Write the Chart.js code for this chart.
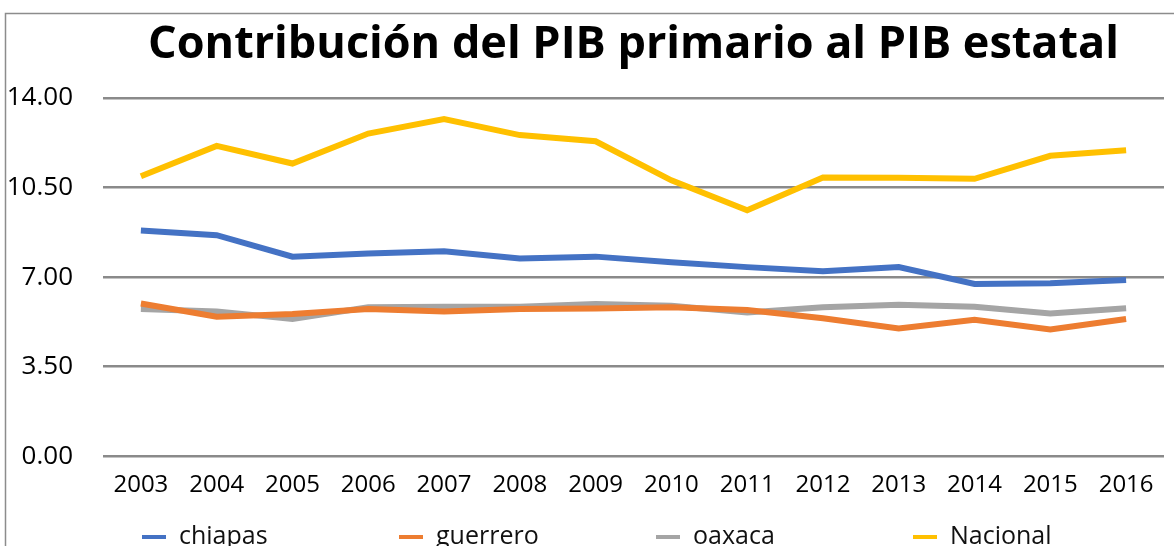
<!DOCTYPE html>
<html>
<head>
<meta charset="utf-8">
<script src="https://cdn.jsdelivr.net/npm/chart.js@4.4.1/dist/chart.umd.min.js"></script>
<style>
  html, body { margin: 0; padding: 0; background: #fff; overflow: hidden; }
  #wrap { position: relative; width: 1174px; height: 546px; }
</style>
</head>
<body>
<div id="wrap"><canvas id="pibChart" width="1174" height="546"></canvas></div>
<script>
// data
const years = ['2003', '2004', '2005', '2006', '2007', '2008', '2009',
  '2010', '2011', '2012', '2013', '2014', '2015', '2016'];
const chiapas = [8.82, 8.64, 7.80, 7.92, 8.01, 7.73, 7.80, 7.58, 7.39, 7.23, 7.39, 6.73, 6.76, 6.89];
const guerrero = [5.97, 5.45, 5.56, 5.75, 5.66, 5.75, 5.77, 5.82, 5.71, 5.39, 4.99, 5.33, 4.95, 5.36];
const oaxaca = [5.75, 5.66, 5.36, 5.82, 5.84, 5.84, 5.95, 5.88, 5.62, 5.82, 5.92, 5.84, 5.58, 5.78];
const nacional = [10.94, 12.13, 11.44, 12.61, 13.18, 12.55, 12.31, 10.78, 9.61, 10.89, 10.88, 10.84, 11.74, 11.96];
const seriesNames = ['chiapas', 'guerrero', 'oaxaca', 'Nacional'];

const COLORS = ['#4472C4', '#ED7D31', '#A5A5A5', '#FFC000'];
const FONT = '"Open Sans", "Noto Sans", sans-serif';

const mkSet = (label, data, color) => ({
  label,
  data,
  borderColor: color,
  backgroundColor: color,
  borderWidth: 6,
  pointRadius: 0,
  pointHoverRadius: 0,
  tension: 0,
});

// thin frame that runs off the right / bottom edge
const framePlugin = {
  id: 'frame',
  beforeDraw(chart) {
    const { ctx } = chart;
    ctx.save();
    ctx.fillStyle = '#fff';
    ctx.fillRect(0, 0, chart.width, chart.height);
    ctx.strokeStyle = '#8c8c8c';
    ctx.lineWidth = 1.5;
    ctx.strokeRect(5.5, 13.5, chart.width + 20, chart.height + 20);
    ctx.restore();
  },
};

// bottom legend with evenly spaced entries, like the original
const legendPlugin = {
  id: 'spacedLegend',
  afterDraw(chart) {
    const { ctx } = chart;
    const sets = chart.data.datasets;
    const step = 257;
    const x0 = 142;
    const y = 537;
    ctx.save();
    ctx.font = '25px ' + FONT;
    ctx.textBaseline = 'middle';
    sets.forEach((ds, i) => {
      const x = x0 + i * step;
      ctx.fillStyle = ds.borderColor;
      ctx.fillRect(x, y - 2, 24, 4);
      ctx.fillStyle = '#111';
      ctx.fillText(ds.label, x + 37, y);
    });
    ctx.restore();
  },
};

new Chart(document.getElementById('pibChart').getContext('2d'), {
  type: 'line',
  data: {
    labels: years,
    datasets: [
      mkSet(seriesNames[0], chiapas, COLORS[0]),
      mkSet(seriesNames[1], guerrero, COLORS[1]),
      mkSet(seriesNames[2], oaxaca, COLORS[2]),
      mkSet(seriesNames[3], nacional, COLORS[3]),
    ],
  },
  options: {
    responsive: false,
    animation: false,
    layout: { padding: { left: 0, right: 10, top: 0, bottom: 31 } },
    plugins: {
      legend: { display: false },
      tooltip: { enabled: false },
      title: {
        display: true,
        fullSize: false,
        text: 'Contribución del PIB primario al PIB estatal',
        color: '#000',
        font: { family: FONT, size: 45, weight: 'bold', lineHeight: 1.2 },
        padding: { top: 18, bottom: 26 },
      },
    },
    scales: {
      x: {
        offset: true,
        grid: { display: false, drawTicks: false },
        border: { display: false },
        ticks: {
          color: '#000',
          padding: 15,
          maxRotation: 0,
          font: { family: FONT, size: 24, lineHeight: 1.2 },
        },
      },
      y: {
        min: 0,
        max: 14,
        afterFit(scale) { scale.width = 103; },
        grid: { color: '#8a8a8a', lineWidth: 2.5, drawTicks: false },
        border: { display: false },
        ticks: {
          stepSize: 3.5,
          color: '#000',
          padding: 30,
          font: { family: FONT, size: 26 },
          callback: (v) => Number(v).toFixed(2),
        },
      },
    },
  },
  plugins: [framePlugin, legendPlugin],
});
</script>
</body>
</html>
